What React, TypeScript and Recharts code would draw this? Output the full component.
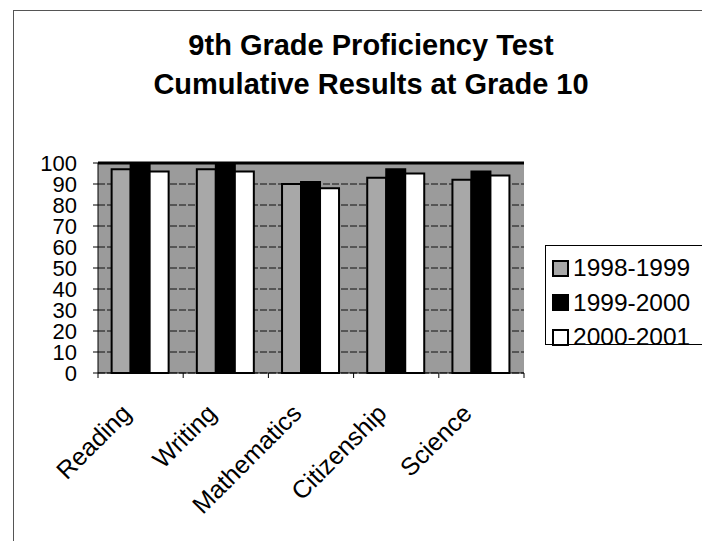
import React from 'react';
import { BarChart, Bar, XAxis, YAxis, CartesianGrid, ReferenceLine, Legend } from 'recharts';

const subjects = ['Reading', 'Writing', 'Mathematics', 'Citizenship', 'Science'];
const scores1998 = [97, 97, 90, 93, 92];
const scores1999 = [100, 99, 91, 97, 96];
const scores2000 = [96, 96, 88, 95, 94];
const seriesNames = ['1998-1999', '1999-2000', '2000-2001'];
const yTicks = [0, 10, 20, 30, 40, 50, 60, 70, 80, 90, 100];
const titleLines = ['9th Grade Proficiency Test', 'Cumulative Results at Grade 10'];

const W = 702;
const H = 541;
const PLOT_LEFT = 98;
const PLOT_RIGHT = 524;
const PLOT_TOP = 163;
const PLOT_BOTTOM = 373;
const X_AXIS_H = 30;
const FONT = 'Arial, "Liberation Sans", Helvetica, sans-serif';

const data = subjects.map((s, i) => ({
  subject: s,
  [seriesNames[0]]: scores1998[i],
  [seriesNames[1]]: scores1999[i],
  [seriesNames[2]]: scores2000[i],
}));

const seriesStyle = [
  { fill: '#a8a8a8', stroke: '#000' },
  { fill: '#000000', stroke: '#000' },
  { fill: '#ffffff', stroke: '#000' },
];

const band = (PLOT_RIGHT - PLOT_LEFT) / subjects.length;

const XTick = (props: any) => {
  const { x, y, payload, index } = props;
  const left = x - band / 2;
  const right = x + band / 2;
  const ax = x - 8;
  const ay = y + 42;
  return (
    <g>
      <line x1={left} y1={y} x2={left} y2={y + 5} stroke="#000" strokeWidth={1} />
      {index === subjects.length - 1 && (
        <line x1={right} y1={y} x2={right} y2={y + 5} stroke="#000" strokeWidth={1} />
      )}
      <text
        x={ax}
        y={ay}
        transform={`rotate(-45, ${ax}, ${ay})`}
        textAnchor="end"
        fontFamily={FONT}
        fontSize={25}
        fill="#000"
      >
        {payload.value}
      </text>
    </g>
  );
};

const LegendContent = () => (
  <div
    style={{
      width: 180,
      height: 100,
      border: '1px solid #000',
      boxSizing: 'border-box',
      background: '#fff',
      fontFamily: FONT,
      fontSize: 24.5,
      color: '#000',
      paddingTop: 5,
    }}
  >
    {seriesNames.map((n, i) => (
      <div key={n} style={{ display: 'flex', alignItems: 'center', height: 34.5, paddingLeft: 6 }}>
        <div
          style={{
            width: 17,
            height: 17,
            boxSizing: 'border-box',
            background: seriesStyle[i].fill,
            border: '2px solid #000',
            marginRight: 4,
          }}
        />
        <span style={{ lineHeight: '24px' }}>{n}</span>
      </div>
    ))}
  </div>
);

export default function App() {
  return (
    <div style={{ position: 'absolute', left: 0, top: 0, width: W, height: H, overflow: 'hidden', background: '#fff' }}>
      <div
        style={{
          position: 'absolute',
          left: 13,
          top: 10,
          width: W,
          height: H,
          borderLeft: '1px solid #555',
          borderTop: '1px solid #555',
        }}
      />
      <div
        style={{
          position: 'absolute',
          left: 0,
          top: 26,
          width: 742,
          textAlign: 'center',
          fontFamily: FONT,
          fontWeight: 'bold',
          fontSize: 29,
          lineHeight: '39px',
          color: '#000',
        }}
      >
        {titleLines.map((t) => (
          <div key={t}>{t}</div>
        ))}
      </div>
      <BarChart
        width={W}
        height={H}
        data={data}
        margin={{ top: PLOT_TOP, right: W - PLOT_RIGHT, bottom: H - PLOT_BOTTOM - X_AXIS_H, left: 0 }}
        barGap={0}
        barCategoryGap="16%"
        style={{ position: 'absolute', left: 0, top: 0 }}
      >
        <CartesianGrid
          vertical={false}
          fill="#9b9b9b"
          fillOpacity={1}
          stroke="#111"
          strokeDasharray="7 2"
        />
        <XAxis
          dataKey="subject"
          height={X_AXIS_H}
          axisLine={{ stroke: '#000', strokeWidth: 1 }}
          tickLine={false}
          tickSize={0}
          tickMargin={0}
          interval={0}
          tick={<XTick />}
        />
        <YAxis
          width={PLOT_LEFT}
          domain={[0, 100]}
          ticks={yTicks}
          interval={0}
          axisLine={{ stroke: '#000', strokeWidth: 1 }}
          tickLine={{ stroke: '#000' }}
          tickSize={5}
          tickMargin={16}
          tick={{ fontFamily: FONT, fontSize: 22, fill: '#000' }}
        />
        <YAxis
          yAxisId="frame"
          orientation="right"
          width={0}
          domain={[0, 100]}
          tick={false}
          tickLine={false}
          axisLine={{ stroke: '#000', strokeWidth: 3 }}
        />
        <ReferenceLine y={100} stroke="#000" strokeWidth={3} />
        <Legend
          layout="vertical"
          align="center"
          verticalAlign="middle"
          content={<LegendContent />}
          wrapperStyle={{ left: 545, top: 245, width: 180, height: 100 }}
        />
        {seriesNames.map((n, i) => (
          <Bar
            key={n}
            dataKey={n}
            fill={seriesStyle[i].fill}
            stroke={seriesStyle[i].stroke}
            strokeWidth={2}
            isAnimationActive={false}
          />
        ))}
      </BarChart>
    </div>
  );
}
